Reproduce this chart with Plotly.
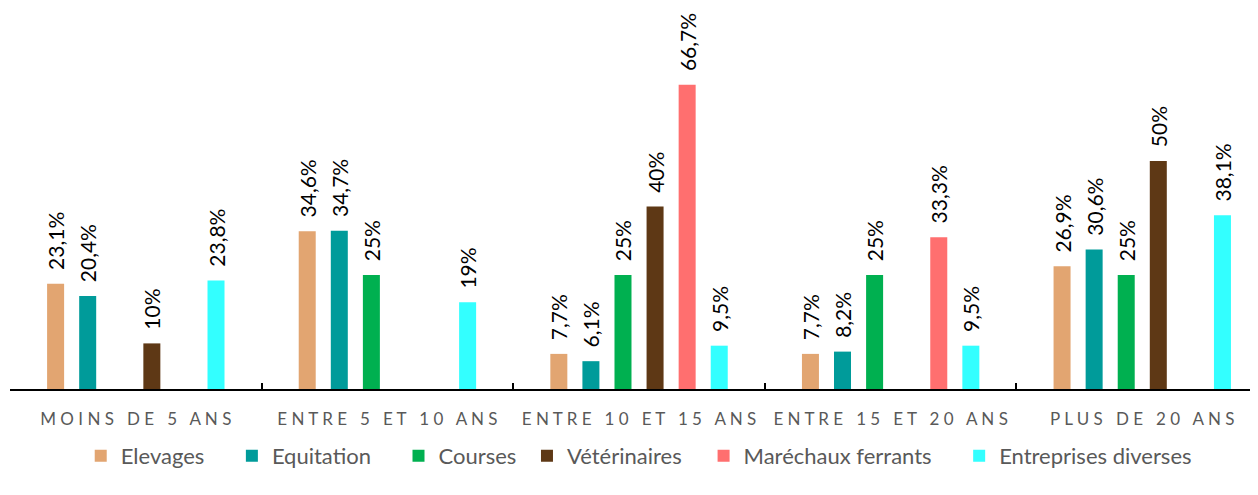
import plotly.graph_objects as go

categories = ["MOINS DE 5 ANS", "ENTRE 5 ET 10 ANS", "ENTRE 10 ET 15 ANS",
              "ENTRE 15 ET 20 ANS", "PLUS DE 20 ANS"]
series_names = ["Elevages", "Equitation", "Courses", "Vétérinaires",
                "Maréchaux ferrants", "Entreprises diverses"]
elevages = [23.1, 34.6, 7.7, 7.7, 26.9]
equitation = [20.4, 34.7, 6.1, 8.2, 30.6]
courses = [None, 25, 25, 25, 25]
veterinaires = [10, None, 40, None, 50]
marechaux = [None, None, 66.7, 33.3, None]
entreprises = [23.8, 19, 9.5, 9.5, 38.1]
colors = ["#E2A571", "#009B9A", "#00B050", "#5E3815", "#FF6F6F", "#33FFFF"]

series_values = [elevages, equitation, courses, veterinaires, marechaux, entreprises]

FONT = "Lato, Calibri, sans-serif"
legend_pad = [4, 4, 1, 3, 4, 4]  # trailing spacing after each legend entry


def fmt(v):
    if v is None:
        return ""
    s = ("%g" % v).replace(".", ",")
    return "\u00a0\u00a0" + s + "%"


def spaced(label):
    words = label.split(" ")
    return "\u00a0\u00a0\u00a0".join("\u00a0".join(list(w)) for w in words)


fig = go.Figure()
for name, vals, col, pad in zip(series_names, series_values, colors, legend_pad):
    fig.add_trace(go.Bar(
        name=name + "\u00a0" * pad, x=categories, y=vals,
        marker=dict(color=col, line=dict(width=0)),
        text=[fmt(v) for v in vals],
        textposition="outside", textangle=-90,
        textfont=dict(family=FONT, size=21, color="#000000"),
        cliponaxis=False, constraintext="none",
    ))

# page has an 8px body margin, so the figure is 8px smaller than the window
fig.update_layout(
    width=1250, height=487,
    margin=dict(l=2, r=0, t=0, b=106, autoexpand=False),
    barmode="group", bargap=0.235, bargroupgap=0.47,
    plot_bgcolor="white", paper_bgcolor="white",
    font=dict(family=FONT, color="#595959"),
    showlegend=True,
    legend=dict(orientation="h", x=0.513, xanchor="center", y=-0.176, yanchor="middle",
                font=dict(size=22, color="#595959"), itemwidth=30,
                traceorder="normal"),
)
fig.update_xaxes(
    type="category", range=[-0.5, 4.46], automargin=False,
    tickmode="array", tickvals=categories, ticktext=[spaced(c) for c in categories],
    tickson="boundaries", ticks="inside", ticklen=6, tickcolor="#000000", tickwidth=1.5,
    showline=True, linecolor="#000000", linewidth=1.5,
    tickfont=dict(size=17, color="#595959"), ticklabelstandoff=14,
    showgrid=False,
)
fig.update_yaxes(range=[0, 83.55], visible=False, showgrid=False, zeroline=False,
                 automargin=False)

fig.write_html("out.html")
